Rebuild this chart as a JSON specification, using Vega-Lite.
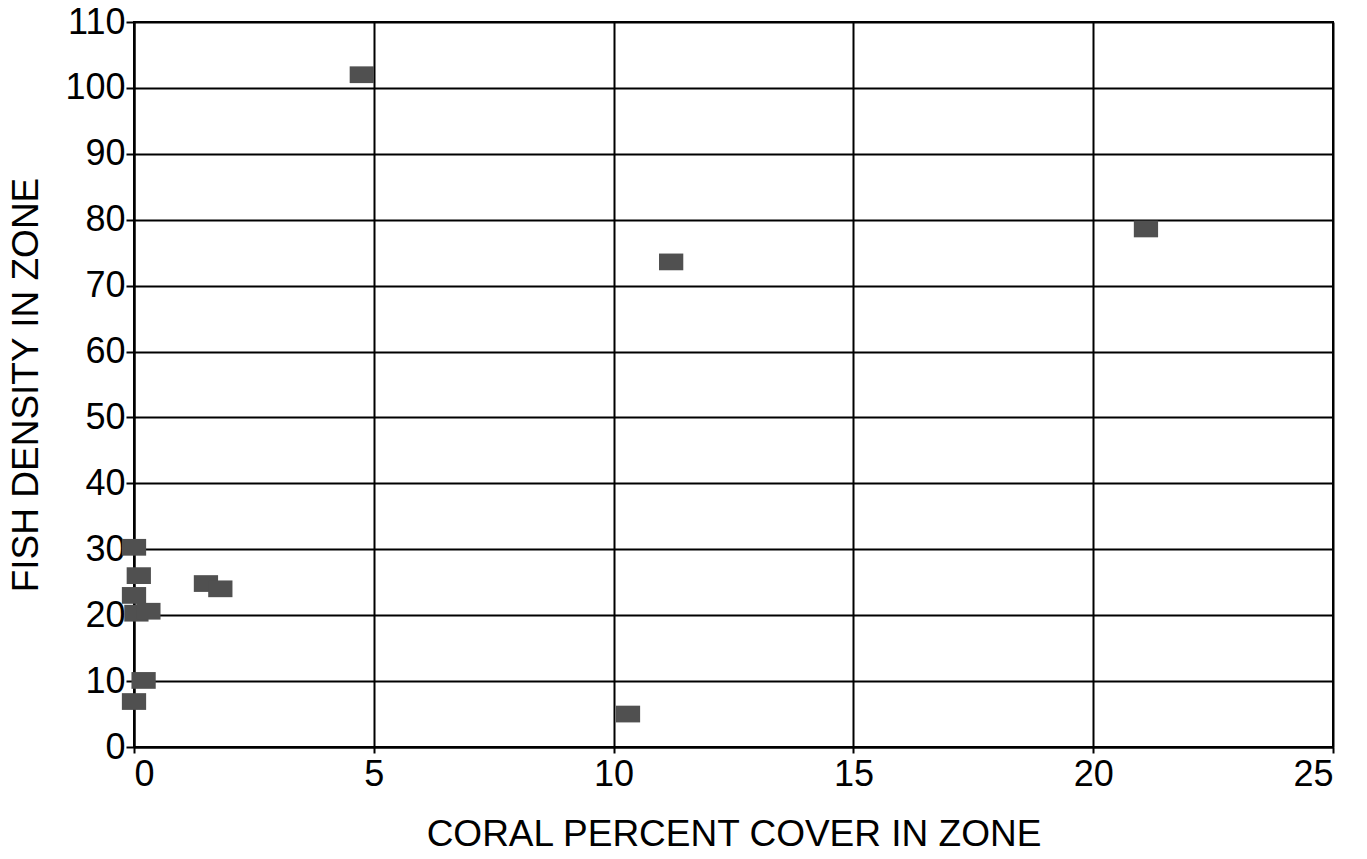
{
  "$schema": "https://vega.github.io/schema/vega-lite/v6.json",
  "width": 1199,
  "height": 725,
  "autosize": {"type": "none"},
  "padding": {"left": 134, "top": 22, "right": 34, "bottom": 112},
  "background": "white",
  "config": {
    "view": {"stroke": "black", "strokeWidth": 2},
    "font": "Liberation Sans"
  },
  "data": {
    "values": [
      {"coral": 0.0, "fish": 30.3},
      {"coral": 0.1, "fish": 26.0},
      {"coral": 0.0, "fish": 23.0},
      {"coral": 0.05, "fish": 20.3},
      {"coral": 0.3, "fish": 20.6},
      {"coral": 0.2, "fish": 10.1},
      {"coral": 0.0, "fish": 6.9},
      {"coral": 1.5, "fish": 24.8},
      {"coral": 1.8, "fish": 24.0},
      {"coral": 4.75, "fish": 102.0},
      {"coral": 11.2, "fish": 73.6},
      {"coral": 10.3, "fish": 5.0},
      {"coral": 21.1, "fish": 78.6}
    ]
  },
  "mark": {
    "type": "point",
    "shape": "M-1.45,-1L1.45,-1L1.45,1L-1.45,1Z",
    "filled": true,
    "color": "#505050",
    "opacity": 1,
    "size": 280
  },
  "encoding": {
    "x": {
      "field": "coral",
      "type": "quantitative",
      "scale": {"domain": [0, 25], "nice": false, "zero": true},
      "axis": {
        "values": [0, 5, 10, 15, 20, 25],
        "title": "CORAL PERCENT COVER IN ZONE",
        "titleFontSize": 37,
        "titleFontWeight": "normal",
        "titleColor": "black",
        "titlePadding": 24,
        "labelFontSize": 36,
        "labelColor": "black",
        "labelPadding": 4,
        "grid": true,
        "gridColor": "black",
        "gridWidth": 2,
        "gridOpacity": 1,
        "domainColor": "black",
        "domainWidth": 2,
        "tickColor": "black",
        "tickWidth": 2,
        "tickSize": 6
      }
    },
    "y": {
      "field": "fish",
      "type": "quantitative",
      "scale": {"domain": [0, 110], "nice": false},
      "axis": {
        "values": [0, 10, 20, 30, 40, 50, 60, 70, 80, 90, 100, 110],
        "title": "FISH DENSITY IN ZONE",
        "titleFontSize": 37,
        "titleFontWeight": "normal",
        "titleColor": "black",
        "titlePadding": 19,
        "labelFontSize": 36,
        "labelColor": "black",
        "labelPadding": 1,
        "grid": true,
        "gridColor": "black",
        "gridWidth": 2,
        "gridOpacity": 1,
        "domainColor": "black",
        "domainWidth": 2,
        "tickColor": "black",
        "tickWidth": 2,
        "tickSize": 8
      }
    }
  }
}
